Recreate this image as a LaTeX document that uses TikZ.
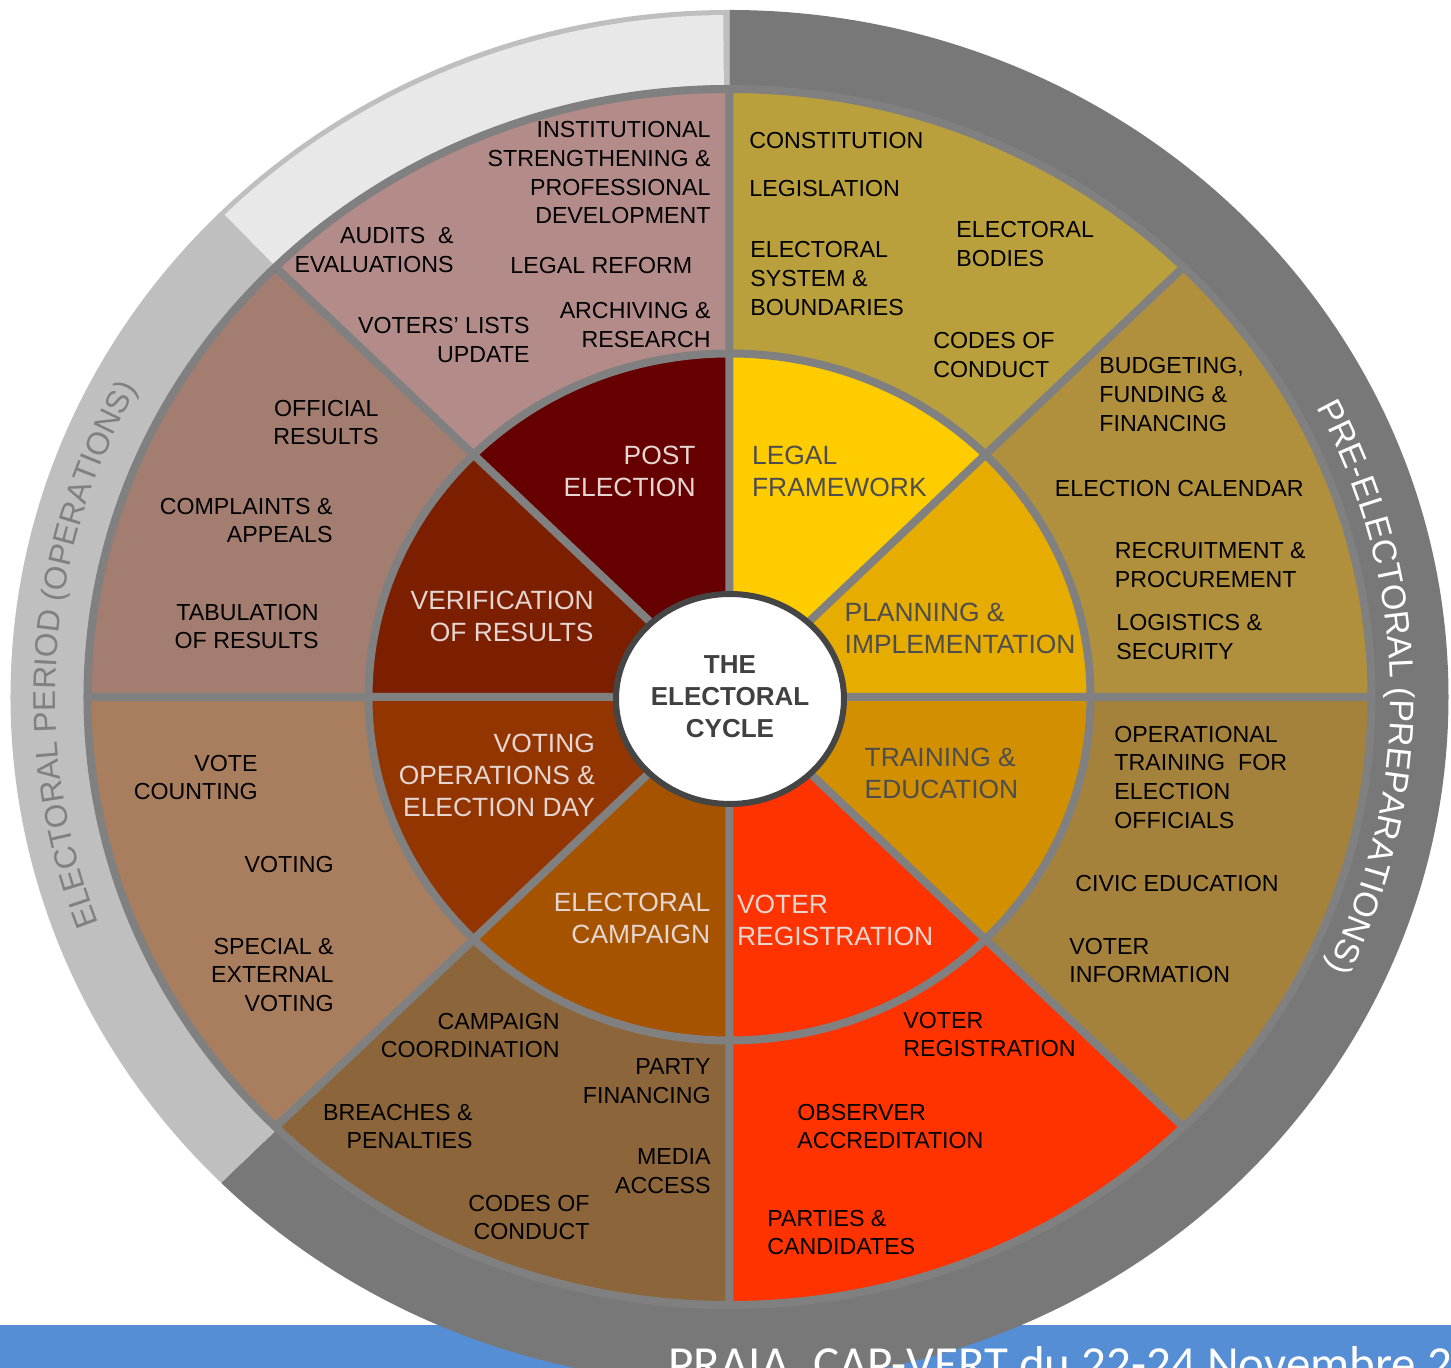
\documentclass[tikz,border=0pt]{standalone}
\usepackage{fontspec}
\setmainfont{Liberation Sans}
\newfontfamily\headfont{Carlito}
\usetikzlibrary{decorations.text}

\definecolor{bandDark}{HTML}{787878}
\definecolor{bandLight}{HTML}{BFBFBF}
\definecolor{bandPale}{HTML}{E8E8E8}
\definecolor{sepGray}{HTML}{808080}
\definecolor{hubRim}{HTML}{454545}
\definecolor{hubTxt}{HTML}{404040}
\definecolor{slideBlue}{HTML}{558ED5}
\definecolor{lightTxt}{HTML}{E6D6D2}
\definecolor{darkTxt}{HTML}{4D4D4D}
% outer ring
\definecolor{oPost}{HTML}{B38B89}
\definecolor{oLegal}{HTML}{B9A03C}
\definecolor{oPlan}{HTML}{B0903C}
\definecolor{oTrain}{HTML}{A5823B}
\definecolor{oReg}{HTML}{FF3300}
\definecolor{oCamp}{HTML}{8C663A}
\definecolor{oVote}{HTML}{A87E5F}
\definecolor{oVerif}{HTML}{A27D70}
% inner ring
\definecolor{iPost}{HTML}{660000}
\definecolor{iLegal}{HTML}{FFCC00}
\definecolor{iPlan}{HTML}{E6AC00}
\definecolor{iTrain}{HTML}{D29000}
\definecolor{iReg}{HTML}{FF3300}
\definecolor{iCamp}{HTML}{A65300}
\definecolor{iVote}{HTML}{933500}
\definecolor{iVerif}{HTML}{7B1F00}

\newcommand\outerfont{\fontsize{11.6pt}{14.4pt}\selectfont}
\newcommand\midfont{\fontsize{13.2pt}{16pt}\selectfont}
\newcommand\hubfont{\fontsize{13pt}{16pt}\selectfont\bfseries}
\newcommand\bandfont{\fontsize{15.8pt}{18pt}\selectfont}
\newcommand\prepfont{\fontsize{17pt}{20pt}\selectfont}

\tikzset{
  sepLine/.style={draw=sepGray,line width=4pt},
  outerR/.style={inner sep=0pt,font=\outerfont,align=right,anchor=north east},
  outerL/.style={inner sep=0pt,font=\outerfont,align=left,anchor=north west},
  midR/.style={inner sep=0pt,font=\midfont,align=right,anchor=north east},
  midL/.style={inner sep=0pt,font=\midfont,align=left,anchor=north west}
}

\begin{document}
\begin{tikzpicture}[x=0.5pt,y=0.5pt]
  \useasboundingbox (-729.5,-671) rectangle (721.5,697);
  \fill[slideBlue] (-729.5,-671) rectangle (721.5,-628);

  % period band
  \fill[bandDark] (0,0) -- (90:719 and 687) arc[start angle=90,end angle=-135,x radius=719,y radius=687] -- cycle;
  \fill[bandLight] (0,0) -- (90:719 and 687) arc[start angle=90,end angle=225,x radius=719,y radius=687] -- cycle;
  \fill[bandPale] (90.5:645 and 612) arc[start angle=90.5,end angle=135,x radius=645,y radius=612]
    -- (135:714 and 682) arc[start angle=135,end angle=90.5,x radius=714,y radius=682] -- cycle;

  % outer ring
  \fill[oPost] (0,0) -- (90:642 and 608) arc[start angle=90,end angle=135,x radius=642,y radius=608] -- cycle;
  \fill[oVerif] (0,0) -- (135:642 and 608) arc[start angle=135,end angle=180,x radius=642,y radius=608] -- cycle;
  \fill[oVote] (0,0) -- (180:642 and 608) arc[start angle=180,end angle=225,x radius=642,y radius=608] -- cycle;
  \fill[oCamp] (0,0) -- (225:642 and 608) arc[start angle=225,end angle=270,x radius=642,y radius=608] -- cycle;
  \fill[oReg] (0,0) -- (270:642 and 608) arc[start angle=270,end angle=315,x radius=642,y radius=608] -- cycle;
  \fill[oTrain] (0,0) -- (315:642 and 608) arc[start angle=315,end angle=360,x radius=642,y radius=608] -- cycle;
  \fill[oPlan] (0,0) -- (0:642 and 608) arc[start angle=0,end angle=45,x radius=642,y radius=608] -- cycle;
  \fill[oLegal] (0,0) -- (45:642 and 608) arc[start angle=45,end angle=90,x radius=642,y radius=608] -- cycle;

  % inner ring
  \fill[iPost] (0,0) -- (90:361 and 343.5) arc[start angle=90,end angle=135,x radius=361,y radius=343.5] -- cycle;
  \fill[iVerif] (0,0) -- (135:361 and 343.5) arc[start angle=135,end angle=180,x radius=361,y radius=343.5] -- cycle;
  \fill[iVote] (0,0) -- (180:361 and 343.5) arc[start angle=180,end angle=225,x radius=361,y radius=343.5] -- cycle;
  \fill[iCamp] (0,0) -- (225:361 and 343.5) arc[start angle=225,end angle=270,x radius=361,y radius=343.5] -- cycle;
  \fill[iReg] (0,0) -- (270:361 and 343.5) arc[start angle=270,end angle=315,x radius=361,y radius=343.5] -- cycle;
  \fill[iTrain] (0,0) -- (315:361 and 343.5) arc[start angle=315,end angle=360,x radius=361,y radius=343.5] -- cycle;
  \fill[iPlan] (0,0) -- (0:361 and 343.5) arc[start angle=0,end angle=45,x radius=361,y radius=343.5] -- cycle;
  \fill[iLegal] (0,0) -- (45:361 and 343.5) arc[start angle=45,end angle=90,x radius=361,y radius=343.5] -- cycle;

  \draw[sepLine] (0:642 and 608) -- (180:642 and 608)
    (90:642 and 608) -- (270:642 and 608)
    (45:642 and 608) -- (225:642 and 608)
    (135:642 and 608) -- (315:642 and 608);
  \draw[sepLine] (0,0) ellipse[x radius=642,y radius=608];
  \draw[sepLine] (0,0) ellipse[x radius=361,y radius=343.5];

  \draw[hubRim,fill=white,line width=3pt] (0.5,-2) ellipse[x radius=114,y radius=105];
  \node[font=\hubfont,text=hubTxt,align=center,inner sep=0pt,anchor=north] (hub) at (0.5,42) {THE\\ELECTORAL\\CYCLE};

  % inner ring labels
  \node[midR,text=lightTxt] (post) at (-33.5,251.3) {POST\\ELECTION};
  \node[midR,text=lightTxt] (verif) at (-135.5,106) {VERIFICATION\\OF RESULTS};
  \node[midR,text=lightTxt] (votingops) at (-134.2,-36.3) {VOTING\\OPERATIONS \&\\ELECTION DAY};
  \node[midR,text=lightTxt] (campaign) at (-18.8,-195.7) {ELECTORAL\\CAMPAIGN};
  \node[midL,text=lightTxt] (registration) at (7.2,-198) {VOTER\\REGISTRATION};
  \node[midL,text=darkTxt] (training) at (134.8,-50.7) {TRAINING \&\\EDUCATION};
  \node[midL,text=darkTxt] (planning) at (114.8,94.3) {PLANNING \&\\IMPLEMENTATION};
  \node[midL,text=darkTxt] (legal) at (22.2,251.3) {LEGAL\\FRAMEWORK};

  % outer ring labels
  \node[outerR] (instit) at (-18.5,576) {INSTITUTIONAL\\STRENGTHENING \&\\PROFESSIONAL\\DEVELOPMENT};
  \node[outerR] (audits) at (-275.5,470) {AUDITS~~\&\\EVALUATIONS};
  \node[outerL] (legalref) at (-219.5,440) {LEGAL REFORM};
  \node[outerR] (voterslists) at (-199.5,380) {VOTERS’ LISTS\\UPDATE};
  \node[outerR] (archiving) at (-18.5,395) {ARCHIVING \&\\RESEARCH};

  \node[outerL] (constitution) at (19.5,565) {CONSTITUTION};
  \node[outerL] (legislation) at (19.5,517) {LEGISLATION};
  \node[outerL] (elsystem) at (20.5,456) {ELECTORAL\\SYSTEM \&\\BOUNDARIES};
  \node[outerL] (elbodies) at (226.5,476) {ELECTORAL\\BODIES};
  \node[outerL] (conductA) at (203.5,365) {CODES OF\\CONDUCT};

  \node[outerL] (budget) at (369.5,340) {BUDGETING,\\FUNDING \&\\FINANCING};
  \node[outerL] (calendar) at (325,217.5) {ELECTION CALENDAR};
  \node[outerL] (recruit) at (385,155) {RECRUITMENT \&\\PROCUREMENT};
  \node[outerL] (logistics) at (386.5,83) {LOGISTICS \&\\SECURITY};

  \node[outerL] (optrain) at (384.5,-28.5) {OPERATIONAL\\TRAINING~~FOR\\ELECTION\\OFFICIALS};
  \node[outerL] (civic) at (345.5,-177.5) {CIVIC EDUCATION};
  \node[outerL] (voterinfo) at (339.5,-240.5) {VOTER\\INFORMATION};

  \node[outerL] (regvoter) at (173.5,-314.5) {VOTER\\REGISTRATION};
  \node[outerL] (observer) at (67.5,-406.5) {OBSERVER\\ACCREDITATION};
  \node[outerL] (parties) at (37.5,-512.5) {PARTIES \&\\CANDIDATES};

  \node[outerR] (campcoord) at (-169.5,-315.5) {CAMPAIGN\\COORDINATION};
  \node[outerR] (partyfin) at (-18.5,-361.5) {PARTY\\FINANCING};
  \node[outerR] (breaches) at (-256.5,-406.5) {BREACHES \&\\PENALTIES};
  \node[outerR] (media) at (-18.5,-451.5) {MEDIA\\ACCESS};
  \node[outerR] (conductB) at (-139.5,-497.5) {CODES OF\\CONDUCT};

  \node[outerR] (votecount) at (-471.5,-57.5) {VOTE\\COUNTING};
  \node[outerR] (voting) at (-395.5,-158.5) {VOTING};
  \node[outerR] (special) at (-395.5,-240.5) {SPECIAL \&\\EXTERNAL\\VOTING};

  \node[outerR] (official) at (-350.5,297.5) {OFFICIAL\\RESULTS};
  \node[outerR] (complaints) at (-396.5,199.5) {COMPLAINTS \&\\APPEALS};
  \node[outerR] (tabulation) at (-410.5,93.5) {TABULATION\\OF RESULTS};

  % band titles
  \path[decorate,decoration={text along path,text align=center,
      text={|\bandfont\color{sepGray}|ELECTORAL PERIOD (OPERATIONS)}}]
    (206:674 and 644) arc[start angle=206,end angle=146,x radius=674,y radius=644];
  \path[decorate,decoration={text along path,text align=center,
      text={|\prepfont\color{white}|PRE-ELECTORAL (PREPARATIONS)}}]
    (31:661 and 631) arc[start angle=31,end angle=-29,x radius=661,y radius=631];

  \node[font=\headfont\fontsize{24.5pt}{29pt}\selectfont,text=white,inner sep=0pt,anchor=base west] (venue) at (-61.5,-683.5) {PRAIA, CAP-VERT du 22-24 Novembre 2};
\end{tikzpicture}
\end{document}
